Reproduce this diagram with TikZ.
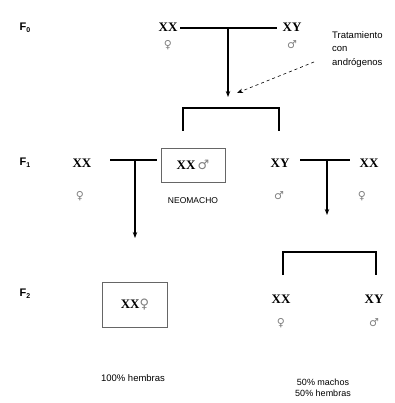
\documentclass[tikz,border=0pt]{standalone}
\usepackage{fontspec}
\setmainfont{Liberation Serif}
\newfontfamily\sansf{Liberation Sans}
\newfontfamily\symf{DejaVu Sans}
\usetikzlibrary{arrows.meta}
\begin{document}
\begin{tikzpicture}[x=1pt,y=-1pt,
 geno/.style={font=\fontsize{13}{15}\selectfont\bfseries, inner sep=0pt},
 sym/.style={font=\symf\fontsize{11}{12}\selectfont, text=gray, inner sep=0pt},
 gen/.style={font=\sansf\bfseries\fontsize{11}{12}\selectfont, inner sep=0pt},
 small/.style={font=\sansf\fontsize{9.5}{13.5}\selectfont, inner sep=0pt, align=left},
 cross/.style={line width=1.2pt},
 arr/.style={line width=1.2pt,-{Stealth[length=6pt,width=4.5pt]}},
 dasharr/.style={dashed, line width=0.6pt,-{Stealth[length=6pt,width=4.5pt]}},
 boxed/.style={draw=gray!80!black, line width=0.9pt, minimum width=64pt, minimum height=34pt}]
\useasboundingbox (0,0) rectangle (394,403);
% generation labels
\node[gen] (g0) at (25,28) {F\raisebox{-2pt}{\fontsize{7}{7}\selectfont 0}};
\node[gen] (g1) at (25,163) {F\raisebox{-2pt}{\fontsize{7}{7}\selectfont 1}};
\node[gen] (g2) at (25,294) {F\raisebox{-2pt}{\fontsize{7}{7}\selectfont 2}};
% parental
\node[geno] (pxx) at (168,27) {XX};
\node[sym] (pxxs) at (168,45) {♀};
\node[geno] (pxy) at (292,27) {XY};
\node[sym] (pxys) at (292,45) {♂};
\coordinate (c0l) at (180,28);
\coordinate (c0r) at (277,28);
\coordinate (c0) at (228,28);
\coordinate (a0) at (228,97);
\draw[cross] (c0l) -- (c0r);
\draw[arr] (c0) -- (a0);
\node[small, anchor=north west] (trat) at (332,31) {Tratamiento\\con\\andrógenos};
\coordinate (d0) at (314,62);
\coordinate (d1) at (237,93);
\draw[dasharr] (d0) -- (d1);
% bracket 1
\coordinate (b1) at (183,131);
\coordinate (b2) at (183,108);
\coordinate (b3) at (279,108);
\coordinate (b4) at (279,131);
\draw[cross] (b1) -- (b2) -- (b3) -- (b4);
% F1
\node[geno] (fxx) at (82,163) {XX};
\node[sym] (fxxs) at (80,196) {♀};
\node[boxed, geno] (neo) at (193,165) {XX\,{\symf\mdseries\color{gray}♂}};
\node[small, font=\sansf\fontsize{8.5}{10}\selectfont] (neolbl) at (193,201) {NEOMACHO};
\coordinate (c1l) at (110,160);
\coordinate (c1r) at (157,160);
\coordinate (c1) at (135,160);
\coordinate (a1) at (135,238);
\draw[cross] (c1l) -- (c1r);
\draw[arr] (c1) -- (a1);
\node[geno] (fxy) at (280,163) {XY};
\node[sym] (fxys) at (279,196) {♂};
\node[geno] (fxx2) at (369,163) {XX};
\node[sym] (fxx2s) at (362,196) {♀};
\coordinate (c2l) at (300,160);
\coordinate (c2r) at (350,160);
\coordinate (c2) at (327,160);
\coordinate (a2) at (327,215);
\draw[cross] (c2l) -- (c2r);
\draw[arr] (c2) -- (a2);
% bracket 2
\coordinate (e1) at (283,275);
\coordinate (e2) at (283,252);
\coordinate (e3) at (376,252);
\coordinate (e4) at (376,275);
\draw[cross] (e1) -- (e2) -- (e3) -- (e4);
% F2
\node[boxed, geno, minimum height=45pt, minimum width=65pt] (fem) at (135,305) {XX{\symf\mdseries\color{gray}♀}};
\node[geno] (hxx) at (281,299) {XX};
\node[sym] (hxxs) at (281,323) {♀};
\node[geno] (hxy) at (374,299) {XY};
\node[sym] (hxys) at (374,323) {♂};
\node[small, font=\sansf\fontsize{9.5}{12}\selectfont] (r1) at (133,378) {100\% hembras};
\node[small, font=\sansf\fontsize{9}{11.5}\selectfont, align=center] (r2) at (323,388) {50\% machos\\50\% hembras};
\end{tikzpicture}
\end{document}
